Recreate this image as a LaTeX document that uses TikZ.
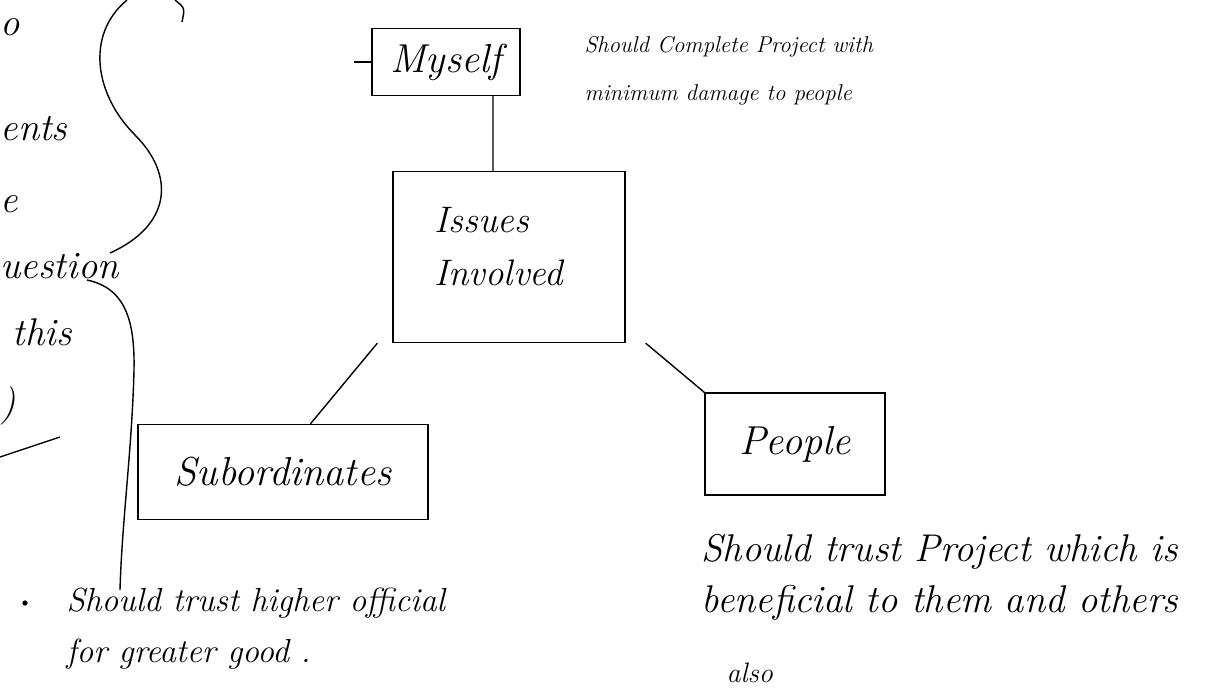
\documentclass[tikz,border=0pt]{standalone}
\usepackage{xcolor}
\usepackage{tikz}
\usetikzlibrary{positioning}
\tikzset{edge/.style = {thick}}

\begin{document}
\begin{tikzpicture}[x=0.02cm,y=-0.02cm,thick,
  box node/.style={rectangle,draw,inner sep=0pt,font=\itshape\fontsize{23}{25}\selectfont},
  note/.style={align=left,anchor=base west,font=\itshape\fontsize{19}{29}\selectfont},
  scrap/.style={anchor=base west,inner sep=0pt,font=\itshape\fontsize{22}{24}\selectfont}]
  \useasboundingbox (0,0) rectangle (1205,697);

  % boxes
  \node[box node,minimum width=2.96cm,minimum height=1.34cm] (myself) at (446,62) {Myself};
  \node[box node,minimum width=4.64cm,minimum height=3.42cm] (issues) at (509,257) {};
  \node[align=left,anchor=base west,inner sep=0pt,font=\itshape\fontsize{21}{30}\selectfont] (issuestext) at (434,285) {Issues\\Involved};
  \node[box node,minimum width=5.8cm,minimum height=1.9cm] (subord) at (283,472) {Subordinates};
  \node[box node,minimum width=3.6cm,minimum height=2.04cm] (people) at (795,444) {People};

  % links
  \path[edge] ([xshift=0.94cm]myself.south) edge ([xshift=-0.32cm]issues.north);
  \path[edge] ([xshift=-0.3cm]issues.south west) edge ([xshift=0.55cm]subord.north);
  \path[edge] ([xshift=0.4cm]issues.south east) edge (people.north west);
  \draw[edge] (myself.west) -- ++(-17,0);

  % notes (anchored at the last line)
  \node[note,font=\itshape\fontsize{13}{27}\selectfont] (mynote) at (578,100) {Should Complete Project with\\minimum damage to people};
  \node[note] (subnote) at (60,662) {Should trust higher official\\for greater good .};
  \node[note,font=\itshape\fontsize{22}{29}\selectfont] (peoplenote) at (695,612) {Should trust Project which is\\beneficial to them and others};
  \node[note,font=\itshape\fontsize{16}{20}\selectfont] (also) at (720,682) {also};
  \fill (25,603) circle (1.5pt);

  % cut off text on the left
  \node[scrap] (o) at (0,35) {o};
  \node[scrap] (ents) at (0,140) {ents};
  \node[scrap] (e) at (0,212) {e};
  \node[scrap] (uestion) at (0,278) {uestion};
  \node[scrap] (this) at (12,345) {this};
  \node[scrap] (paren) at (0,415) {)};
  \draw (0,457) -- (60,437);

  % brackets
  \draw (127,0) .. controls (85,35) and (95,95) .. (135,135) .. controls (175,175) and (172,225) .. (110,253);
  \draw (175,0) .. controls (185,8) .. (182,22);
  \draw (87,280) .. controls (125,288) and (135,320) .. (134,370) .. controls (132,450) and (122,520) .. (120,590);
\end{tikzpicture}
\end{document}
